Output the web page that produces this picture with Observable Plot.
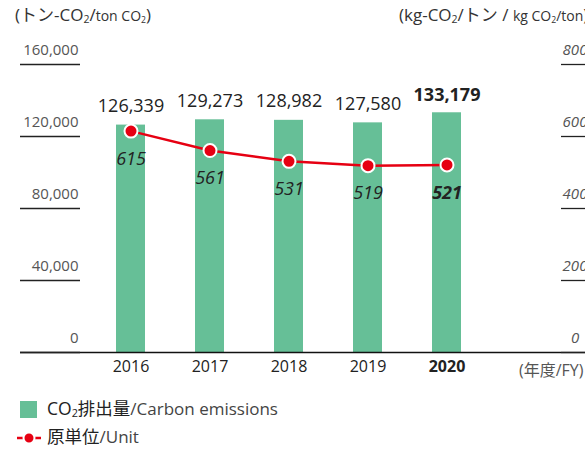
<!DOCTYPE html>
<html>
<head>
<meta charset="utf-8">
<script src="https://cdn.jsdelivr.net/npm/d3@7"></script>
<script src="https://cdn.jsdelivr.net/npm/@observablehq/plot@0.6"></script>
<style>
  html, body { margin: 0; padding: 0; width: 585px; height: 450px; overflow: hidden; background: #fff; }
  body { position: relative; font-family: "Open Sans", "Noto Sans CJK JP", sans-serif; }
  .layer { position: absolute; left: 0; top: 0; }
  .abs { position: absolute; white-space: nowrap; line-height: 1; }
  .sm { font-size: 14px; }
  sub { font-size: 0.62em; vertical-align: -0.2em; line-height: 0; }
</style>
</head>
<body>
<div id="bars" class="layer"></div>
<div id="units" class="layer"></div>
<div class="abs" style="left:15px; top:6px; font-size:17px; color:#333;">(トン-CO<sub>2</sub>/<span class="sm">ton CO<sub>2</sub></span>)</div>
<div class="abs" style="left:399px; top:6px; font-size:17px; color:#333;">(kg-CO<sub>2</sub>/トン / <span class="sm">kg CO<sub>2</sub>/ton</span>)</div>
<div class="abs" style="left:519px; top:362px; font-size:16px; color:#555;">(年度/FY)</div>
<div class="abs" style="left:20px; top:401px; width:17px; height:17px; background:#66bf97;"></div>
<div class="abs" style="left:47px; top:400px; font-size:17.5px; color:#222;">CO<sub>2</sub>排出量<span style="color:#444; font-size:17px;">/Carbon emissions</span></div>
<svg class="abs" style="left:15px; top:430px;" width="28" height="16"><line x1="2" y1="8" x2="26" y2="8" stroke="#e60012" stroke-width="2.5"/><circle cx="14" cy="8" r="5.5" fill="#e60012" stroke="#fff" stroke-width="2"/></svg>
<div class="abs" style="left:47px; top:428px; font-size:17.5px; color:#222;">原単位<span style="color:#444; font-size:17px;">/Unit</span></div>
<script>
const years = [2016, 2017, 2018, 2019, 2020];
const emissions = [126339, 129273, 128982, 127580, 133179];
const unitValues = [615, 561, 531, 519, 521];
const leftTicks = [0, 40000, 80000, 120000, 160000];
const rightTicks = [0, 200, 400, 600, 800];

const data = years.map((y, i) => ({year: y, co2: emissions[i], unit: unitValues[i]}));
const last = data.filter(d => d.year === 2020);
const rest = data.filter(d => d.year !== 2020);
const fmt = d3.format(",");
const green = "#66bf97";
const red = "#e60012";
const font = "'Open Sans', 'Noto Sans CJK JP', sans-serif";

const W = 585, ML = 80, MR = 24;
const frameW = W - ML - MR;

const common = {
  width: W,
  height: 390,
  marginTop: 64,
  marginBottom: 38,
  marginLeft: ML,
  marginRight: MR,
  style: {fontFamily: font, background: "transparent", overflow: "visible", color: "#222"},
  x: {type: "band", domain: years, range: [65.1, 512.5], padding: 0.635, axis: null}
};

const barsPlot = Plot.plot({
  ...common,
  y: {domain: [0, 160000], axis: null},
  marks: [
    Plot.barY(data, {x: "year", y: "co2", fill: green}),
    Plot.ruleY([0], {stroke: "#111", strokeWidth: 1.5, insetLeft: -(ML - 20), insetRight: -MR}),
    Plot.ruleY(leftTicks, {y: d => d, stroke: "#222", strokeWidth: 1.3, insetLeft: -(ML - 20), insetRight: frameW}),
    Plot.text(leftTicks, {y: d => d, frameAnchor: "left", textAnchor: "end", dx: -2, dy: -14, text: d => fmt(d), fontSize: 15, fill: "#555"}),
    Plot.text(rest, {x: "year", y: "co2", text: d => fmt(d.co2), dy: -19, fontSize: 18, fill: "#222"}),
    Plot.text(last, {x: "year", y: "co2", text: d => fmt(d.co2), dy: -17.5, fontSize: 18, fontWeight: "bold", fill: "#222"}),
    Plot.text(rest, {x: "year", frameAnchor: "bottom", text: d => String(d.year), dy: 19, fontSize: 16, fontWeight: 500, fill: "#222"}),
    Plot.text(last, {x: "year", frameAnchor: "bottom", text: d => String(d.year), dy: 19, fontSize: 16, fontWeight: "bold", fill: "#222"})
  ]
});
document.getElementById("bars").appendChild(barsPlot);

const unitsPlot = Plot.plot({
  ...common,
  y: {domain: [0, 800], axis: null},
  marks: [
    Plot.ruleY(rightTicks, {y: d => d, stroke: "#222", strokeWidth: 1.3, insetLeft: frameW, insetRight: -MR}),
    Plot.text(rightTicks, {y: d => d, frameAnchor: "right", textAnchor: "middle", dx: 13.5, dy: -14, text: d => String(d), fontSize: 15, fontStyle: "italic", fill: "#555"}),
    Plot.line(data, {x: "year", y: "unit", stroke: red, strokeWidth: 2.5}),
    Plot.dot(data, {x: "year", y: "unit", r: 6.5, fill: red, stroke: "white", strokeWidth: 2}),
    Plot.text(rest, {x: "year", y: "unit", text: d => String(d.unit), dy: 28, fontSize: 18, fontStyle: "italic", fill: "#222"}),
    Plot.text(last, {x: "year", y: "unit", text: d => String(d.unit), dy: 28, fontSize: 18, fontStyle: "italic", fontWeight: "bold", fill: "#222"})
  ]
});
document.getElementById("units").appendChild(unitsPlot);
</script>
</body>
</html>
